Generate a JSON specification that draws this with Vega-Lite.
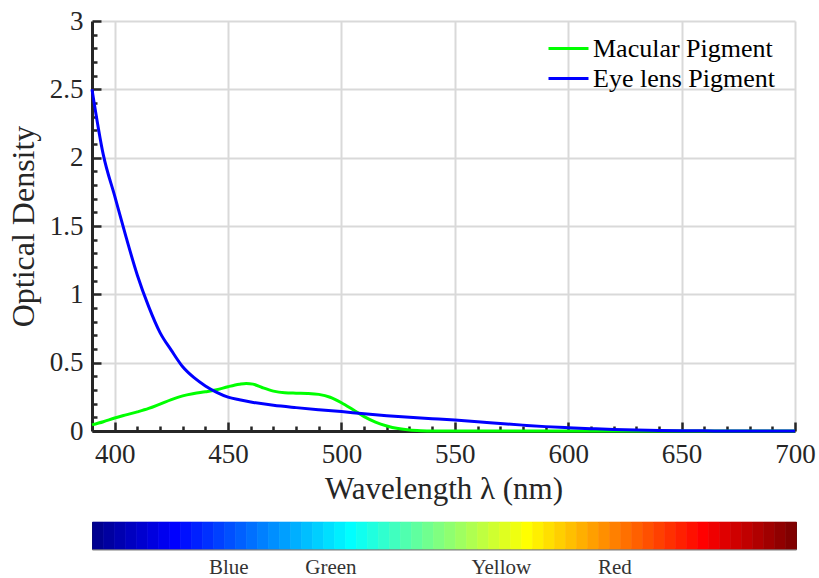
{
  "$schema": "https://vega.github.io/schema/vega-lite/v6.json",
  "background": "white",
  "padding": {"left": 7, "top": 7, "right": 2, "bottom": 2},
  "bounds": "flush",
  "spacing": 91,
  "resolve": {"scale": {"color": "independent", "x": "independent"}, "legend": {"color": "independent"}},
  "config": {
    "view": {"stroke": null},
    "font": "Liberation Serif",
    "axis": {
      "labelFont": "Liberation Serif",
      "titleFont": "Liberation Serif",
      "titleFontWeight": "normal",
      "labelColor": "#262626",
      "titleColor": "#262626",
      "domainColor": "#262626",
      "domainWidth": 3,
      "tickColor": "#262626",
      "tickWidth": 2.5,
      "gridColor": "#d9d9d9",
      "gridWidth": 2
    }
  },
  "vconcat": [
    {
      "width": 703,
      "height": 410,
      "data": {
        "values": [
          {"s": "Macular Pigment", "w": 390, "v": 0.045},
          {"s": "Macular Pigment", "w": 395, "v": 0.068},
          {"s": "Macular Pigment", "w": 400, "v": 0.095},
          {"s": "Macular Pigment", "w": 405, "v": 0.118},
          {"s": "Macular Pigment", "w": 410, "v": 0.14},
          {"s": "Macular Pigment", "w": 415, "v": 0.165},
          {"s": "Macular Pigment", "w": 420, "v": 0.197},
          {"s": "Macular Pigment", "w": 425, "v": 0.23},
          {"s": "Macular Pigment", "w": 430, "v": 0.257},
          {"s": "Macular Pigment", "w": 435, "v": 0.274},
          {"s": "Macular Pigment", "w": 440, "v": 0.287},
          {"s": "Macular Pigment", "w": 445, "v": 0.302},
          {"s": "Macular Pigment", "w": 450, "v": 0.324},
          {"s": "Macular Pigment", "w": 455, "v": 0.342},
          {"s": "Macular Pigment", "w": 458, "v": 0.348},
          {"s": "Macular Pigment", "w": 461, "v": 0.343},
          {"s": "Macular Pigment", "w": 465, "v": 0.318},
          {"s": "Macular Pigment", "w": 470, "v": 0.292},
          {"s": "Macular Pigment", "w": 475, "v": 0.28},
          {"s": "Macular Pigment", "w": 480, "v": 0.277},
          {"s": "Macular Pigment", "w": 485, "v": 0.275},
          {"s": "Macular Pigment", "w": 490, "v": 0.268},
          {"s": "Macular Pigment", "w": 495, "v": 0.247},
          {"s": "Macular Pigment", "w": 500, "v": 0.207},
          {"s": "Macular Pigment", "w": 505, "v": 0.157},
          {"s": "Macular Pigment", "w": 510, "v": 0.105},
          {"s": "Macular Pigment", "w": 515, "v": 0.065},
          {"s": "Macular Pigment", "w": 520, "v": 0.037},
          {"s": "Macular Pigment", "w": 525, "v": 0.018},
          {"s": "Macular Pigment", "w": 530, "v": 0.007},
          {"s": "Macular Pigment", "w": 535, "v": 0.002},
          {"s": "Macular Pigment", "w": 540, "v": 0},
          {"s": "Macular Pigment", "w": 560, "v": 0},
          {"s": "Macular Pigment", "w": 600, "v": 0},
          {"s": "Macular Pigment", "w": 650, "v": 0},
          {"s": "Macular Pigment", "w": 700, "v": 0},
          {"s": "Eye lens Pigment", "w": 390, "v": 2.5},
          {"s": "Eye lens Pigment", "w": 395, "v": 2.02},
          {"s": "Eye lens Pigment", "w": 400, "v": 1.72},
          {"s": "Eye lens Pigment", "w": 405, "v": 1.42},
          {"s": "Eye lens Pigment", "w": 410, "v": 1.14},
          {"s": "Eye lens Pigment", "w": 415, "v": 0.91},
          {"s": "Eye lens Pigment", "w": 420, "v": 0.72},
          {"s": "Eye lens Pigment", "w": 425, "v": 0.59},
          {"s": "Eye lens Pigment", "w": 430, "v": 0.47},
          {"s": "Eye lens Pigment", "w": 435, "v": 0.39},
          {"s": "Eye lens Pigment", "w": 440, "v": 0.33},
          {"s": "Eye lens Pigment", "w": 445, "v": 0.283},
          {"s": "Eye lens Pigment", "w": 450, "v": 0.248},
          {"s": "Eye lens Pigment", "w": 455, "v": 0.228},
          {"s": "Eye lens Pigment", "w": 460, "v": 0.212},
          {"s": "Eye lens Pigment", "w": 470, "v": 0.188},
          {"s": "Eye lens Pigment", "w": 480, "v": 0.171},
          {"s": "Eye lens Pigment", "w": 490, "v": 0.156},
          {"s": "Eye lens Pigment", "w": 500, "v": 0.142},
          {"s": "Eye lens Pigment", "w": 510, "v": 0.126},
          {"s": "Eye lens Pigment", "w": 520, "v": 0.112},
          {"s": "Eye lens Pigment", "w": 530, "v": 0.1},
          {"s": "Eye lens Pigment", "w": 540, "v": 0.09},
          {"s": "Eye lens Pigment", "w": 550, "v": 0.08},
          {"s": "Eye lens Pigment", "w": 560, "v": 0.068},
          {"s": "Eye lens Pigment", "w": 570, "v": 0.055},
          {"s": "Eye lens Pigment", "w": 580, "v": 0.043},
          {"s": "Eye lens Pigment", "w": 590, "v": 0.032},
          {"s": "Eye lens Pigment", "w": 600, "v": 0.024},
          {"s": "Eye lens Pigment", "w": 610, "v": 0.017},
          {"s": "Eye lens Pigment", "w": 620, "v": 0.011},
          {"s": "Eye lens Pigment", "w": 630, "v": 0.007},
          {"s": "Eye lens Pigment", "w": 640, "v": 0.004},
          {"s": "Eye lens Pigment", "w": 650, "v": 0.002},
          {"s": "Eye lens Pigment", "w": 660, "v": 0.001},
          {"s": "Eye lens Pigment", "w": 670, "v": 0},
          {"s": "Eye lens Pigment", "w": 700, "v": 0}
        ]
      },
      "mark": {"type": "line", "strokeWidth": 3, "interpolate": "monotone"},
      "encoding": {
        "x": {
          "field": "w",
          "type": "quantitative",
          "scale": {"domain": [390, 700], "nice": false, "zero": false},
          "axis": {
            "title": "Wavelength λ (nm)",
            "titleFontSize": 31,
            "titlePadding": 3,
            "labelFontSize": 27,
            "labelFlush": false,
            "labelOverlap": false,
            "labelBound": false,
            "labelPadding": 19,
            "values": [400, 410, 420, 430, 440, 450, 460, 470, 480, 490, 500, 510, 520, 530, 540, 550, 560, 570, 580, 590, 600, 610, 620, 630, 640, 650, 660, 670, 680, 690, 700],
            "labelExpr": "datum.value % 50 === 0 ? datum.label : ''",
            "tickSize": {"condition": {"test": "datum.value % 50 === 0", "value": -9}, "value": -5},
            "gridOpacity": {"condition": {"test": "datum.value % 50 === 0", "value": 1}, "value": 0}
          }
        },
        "y": {
          "field": "v",
          "type": "quantitative",
          "scale": {"domain": [0, 3], "nice": false, "zero": false},
          "axis": {
            "title": "Optical Density",
            "titleFontSize": 32,
            "titlePadding": 9,
            "labelFontSize": 27,
            "labelOverlap": false,
            "labelBound": false,
            "labelPadding": 18,
            "format": ".1~f",
            "values": [0, 0.1, 0.2, 0.3, 0.4, 0.5, 0.6, 0.7, 0.8, 0.9, 1, 1.1, 1.2, 1.3, 1.4, 1.5, 1.6, 1.7, 1.8, 1.9, 2, 2.1, 2.2, 2.3, 2.4, 2.5, 2.6, 2.7, 2.8, 2.9, 3],
            "labelExpr": "abs(datum.value * 2 - round(datum.value * 2)) < 0.000001 ? datum.label : ''",
            "tickSize": {"condition": {"test": "abs(datum.value * 2 - round(datum.value * 2)) < 0.000001", "value": -9}, "value": -5},
            "gridOpacity": {"condition": {"test": "abs(datum.value * 2 - round(datum.value * 2)) < 0.000001", "value": 1}, "value": 0}
          }
        },
        "color": {
          "field": "s",
          "type": "nominal",
          "scale": {"domain": ["Macular Pigment", "Eye lens Pigment"], "range": ["#00ff00", "#0000ff"]},
          "legend": {
            "title": null,
            "orient": "none",
            "legendX": 460,
            "legendY": 11,
            "padding": 0,
            "symbolType": "M-1.333,0H1.333",
            "symbolSize": 900,
            "symbolStrokeWidth": 3,
            "symbolFillColor": "transparent",
            "labelFont": "Liberation Serif",
            "labelFontSize": 26,
            "labelColor": "#000000",
            "labelOffset": 8,
            "labelLimit": 0,
            "rowPadding": 0
          }
        }
      }
    },
    {
      "width": 704,
      "height": 27,
      "view": {"stroke": "#262626", "strokeWidth": 1},
      "layer": [
        {
          "data": {
            "values": [
              {"i": 0}, {"i": 1}, {"i": 2}, {"i": 3}, {"i": 4}, {"i": 5}, {"i": 6}, {"i": 7},
              {"i": 8}, {"i": 9}, {"i": 10}, {"i": 11}, {"i": 12}, {"i": 13}, {"i": 14}, {"i": 15},
              {"i": 16}, {"i": 17}, {"i": 18}, {"i": 19}, {"i": 20}, {"i": 21}, {"i": 22}, {"i": 23},
              {"i": 24}, {"i": 25}, {"i": 26}, {"i": 27}, {"i": 28}, {"i": 29}, {"i": 30}, {"i": 31},
              {"i": 32}, {"i": 33}, {"i": 34}, {"i": 35}, {"i": 36}, {"i": 37}, {"i": 38}, {"i": 39},
              {"i": 40}, {"i": 41}, {"i": 42}, {"i": 43}, {"i": 44}, {"i": 45}, {"i": 46}, {"i": 47},
              {"i": 48}, {"i": 49}, {"i": 50}, {"i": 51}, {"i": 52}, {"i": 53}, {"i": 54}, {"i": 55},
              {"i": 56}, {"i": 57}, {"i": 58}, {"i": 59}, {"i": 60}, {"i": 61}, {"i": 62}, {"i": 63}
            ]
          },
          "mark": {"type": "rect", "strokeWidth": 0.6},
          "encoding": {
            "x": {
              "field": "i",
              "type": "quantitative",
              "bin": {"step": 1, "extent": [0, 64]},
              "scale": {"domain": [0, 64], "nice": false, "zero": false},
              "axis": null
            },
            "color": {
              "field": "i",
              "type": "quantitative",
              "scale": {"domain": [-1, 7, 23, 39, 55, 63], "range": ["#000080", "#0000ff", "#00ffff", "#ffff00", "#ff0000", "#800000"], "interpolate": "rgb"},
              "legend": null
            },
            "stroke": {
              "field": "i",
              "type": "quantitative",
              "scale": {"domain": [-1, 7, 23, 39, 55, 63], "range": ["#000080", "#0000ff", "#00ffff", "#ffff00", "#ff0000", "#800000"], "interpolate": "rgb"},
              "legend": null
            }
          }
        },
        {
          "data": {
            "values": [
              {"w": 450, "name": "Blue"},
              {"w": 495, "name": "Green"},
              {"w": 570, "name": "Yellow"},
              {"w": 590, "name": ""},
              {"w": 620, "name": "Red"}
            ]
          },
          "mark": {"type": "rule", "opacity": 0},
          "encoding": {
            "x": {
              "field": "w",
              "type": "quantitative",
              "scale": {"domain": [390, 700], "nice": false, "zero": false},
              "axis": {
                "orient": "bottom",
                "title": null,
                "grid": false,
                "values": [450, 495, 570, 590, 620],
                "labelExpr": "datum.value == 450 ? 'Blue' : datum.value == 495 ? 'Green' : datum.value == 570 ? 'Yellow' : datum.value == 620 ? 'Red' : ''",
                "labelFontSize": 21,
                "labelColor": "#333333",
                "labelFlush": false,
                "labelOverlap": false,
                "labelPadding": 13,
                "domainColor": "#7f7f7f",
                "domainWidth": 2,
                "tickSize": -6,
                "tickWidth": 1.2
              }
            }
          }
        }
      ],
      "resolve": {"scale": {"x": "independent", "color": "independent", "stroke": "independent"}, "axis": {"x": "independent"}}
    }
  ]
}
